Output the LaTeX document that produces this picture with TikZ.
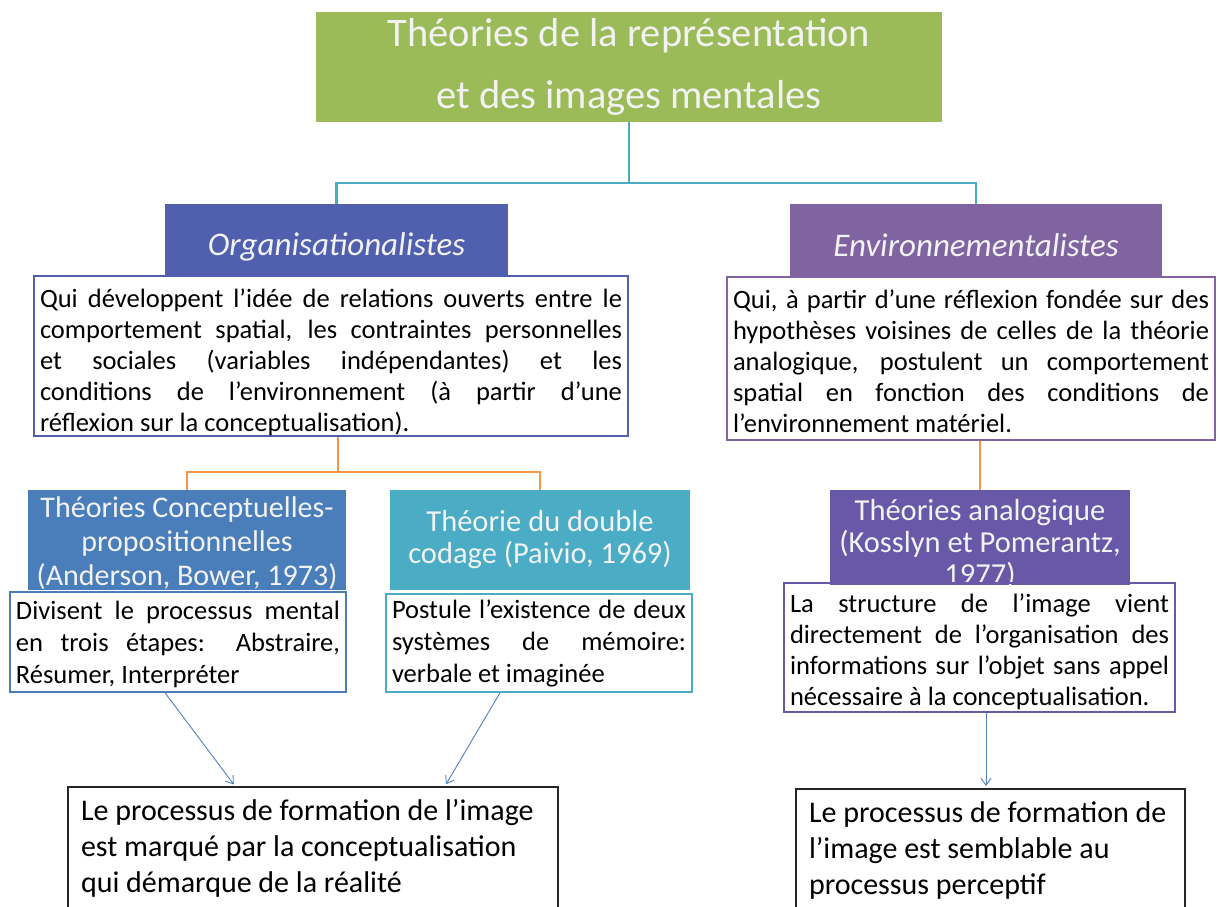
\documentclass[tikz,border=0pt]{standalone}
\usepackage{fontspec}
\setmainfont{Carlito}
\usetikzlibrary{arrows.meta}

\definecolor{titlegreen}{RGB}{155,187,89}
\definecolor{linkteal}{RGB}{75,172,198}
\definecolor{orgblue}{RGB}{80,96,174}
\definecolor{envpurple}{RGB}{128,100,162}
\definecolor{concblue}{RGB}{74,126,187}
\definecolor{dualteal}{RGB}{75,172,198}
\definecolor{anaviolet}{RGB}{104,88,168}
\definecolor{linkorange}{RGB}{247,150,70}
\definecolor{arrowblue}{RGB}{79,129,189}
\definecolor{headtext}{RGB}{242,242,242}

\newcommand{\natsp}{\spaceskip=0pt\relax\xspaceskip=0pt\relax}
\newcommand{\jl}[1]{\makebox[\hsize][s]{\natsp #1}}

\tikzset{
  headbox/.style={fill=#1, text=headtext, inner sep=0pt, align=center, execute at begin node={\natsp\centering}},
  descbox/.style={draw=#1, line width=1.5pt, inner xsep=6pt, inner ysep=0pt, align=justify, execute at begin node=\natsp, font=\fontsize{26.5}{31}\selectfont},
  resultbox/.style={draw=black!85, line width=1.5pt, anchor=north, inner xsep=13pt, inner ysep=13pt, align=left, execute at begin node={\natsp\raggedright}, font=\fontsize{30}{36}\selectfont},
  tree/.style={line width=2.6pt},
  flow/.style={arrowblue, line width=0.9pt, shorten >=2pt, -{Straight Barb[length=7pt,width=10pt]}}
}

\begin{document}
\begin{tikzpicture}[x=1pt, y=-1pt]
\useasboundingbox (0,0) rectangle (1218,906);
\clip (0,0) rectangle (1218,906);

\node[headbox=titlegreen, text width=626pt, minimum height=110pt, font=\fontsize{40.5}{62}\selectfont] (title) at (629,67) {Théories de la représentation\\et des images mentales};

\node[headbox=orgblue, text width=343pt, minimum height=71pt, text height=31pt, text depth=0pt, font=\fontsize{33}{36}\selectfont\itshape] (org) at (336.5,239.5) {Organisationalistes};
\node[headbox=envpurple, text width=372pt, minimum height=73pt, text height=31pt, text depth=0pt, font=\fontsize{33}{36}\selectfont\itshape] (env) at (976,240.5) {Environnementalistes};

\node[descbox=orgblue, text width=582pt, minimum height=160pt, text depth=115pt] (orgtxt) at (331,356) {\jl{Qui développent l’idée de relations ouverts entre le}\\\jl{comportement spatial, les contraintes personnelles}\\\jl{et sociales (variables indépendantes) et les}\\\jl{conditions de l’environnement (à partir d’une}\\réflexion sur la conceptualisation).};
\node[descbox=envpurple, text width=476pt, minimum height=163pt, text depth=118pt] (envtxt) at (971,358.5) {\jl{Qui, à partir d’une réflexion fondée sur des}\\\jl{hypothèses voisines de celles de la théorie}\\\jl{analogique, postulent un comportement}\\\jl{spatial en fonction des conditions de}\\l’environnement matériel.};

\node[headbox=concblue, text width=318pt, minimum height=100pt, text depth=65pt, font=\fontsize{30}{34}\selectfont] (conc) at (187,540) {Théories Conceptuelles-\\propositionnelles\\(Anderson, Bower, 1973)};
\node[headbox=dualteal, text width=300pt, minimum height=100pt, font=\fontsize{30.5}{32}\selectfont] (dual) at (540,540) {Théorie du double\\codage (Paivio, 1969)};
\node[headbox=anaviolet, text width=300pt, minimum height=95pt, text depth=56pt, font=\fontsize{30.5}{32}\selectfont] (ana) at (980,537.5) {Théories analogique\\(Kosslyn et Pomerantz,\\1977)};

\node[descbox=concblue, text width=324pt, minimum height=100pt, text depth=63pt, font=\fontsize{26.5}{32}\selectfont] (divtxt) at (178,642) {\jl{Divisent le processus mental}\\\jl{en trois étapes: Abstraire,}\\Résumer, Interpréter};
\node[descbox=dualteal, text width=294pt, minimum height=98pt, font=\fontsize{26.5}{32}\selectfont] (postxt) at (539,643) {\jl{Postule l’existence de deux}\\\jl{systèmes de mémoire:}\\verbale et imaginée};
\node[descbox=anaviolet, text width=379pt, minimum height=129pt, text depth=88pt] (strtxt) at (979.5,647.5) {\jl{La structure de l’image vient}\\\jl{directement de l’organisation des}\\\jl{informations sur l’objet sans appel}\\nécessaire à la conceptualisation.};

\node[resultbox, text width=464pt] (lbot) at (313,786) {Le processus de formation de l’image\\est marqué par la conceptualisation\\qui démarque de la réalité};
\node[resultbox, text width=363pt] (rbot) at (990.5,788) {Le processus de formation de\\l’image est semblable au\\processus perceptif};

\coordinate (tsplit) at (629,183);
\coordinate (osplit) at (338,472);
\draw[tree, linkteal] (title.south) -- (tsplit) -| (org.north);
\draw[tree, linkteal] (tsplit) -| (env.north);
\draw[tree, linkorange] (osplit |- orgtxt.south) -- (osplit) -| (conc.north);
\draw[tree, linkorange] (osplit) -| (dual.north);
\draw[tree, linkorange] (ana.north |- envtxt.south) -- (ana.north);

\draw[flow] ([xshift=-13pt]divtxt.south) -- ([xshift=-78pt]lbot.north);
\draw[flow] ([xshift=-39pt]postxt.south) -- ([xshift=132pt]lbot.north);
\draw[flow] ([xshift=6.5pt]strtxt.south) -- ([xshift=-4.5pt]rbot.north);
\end{tikzpicture}
\end{document}
